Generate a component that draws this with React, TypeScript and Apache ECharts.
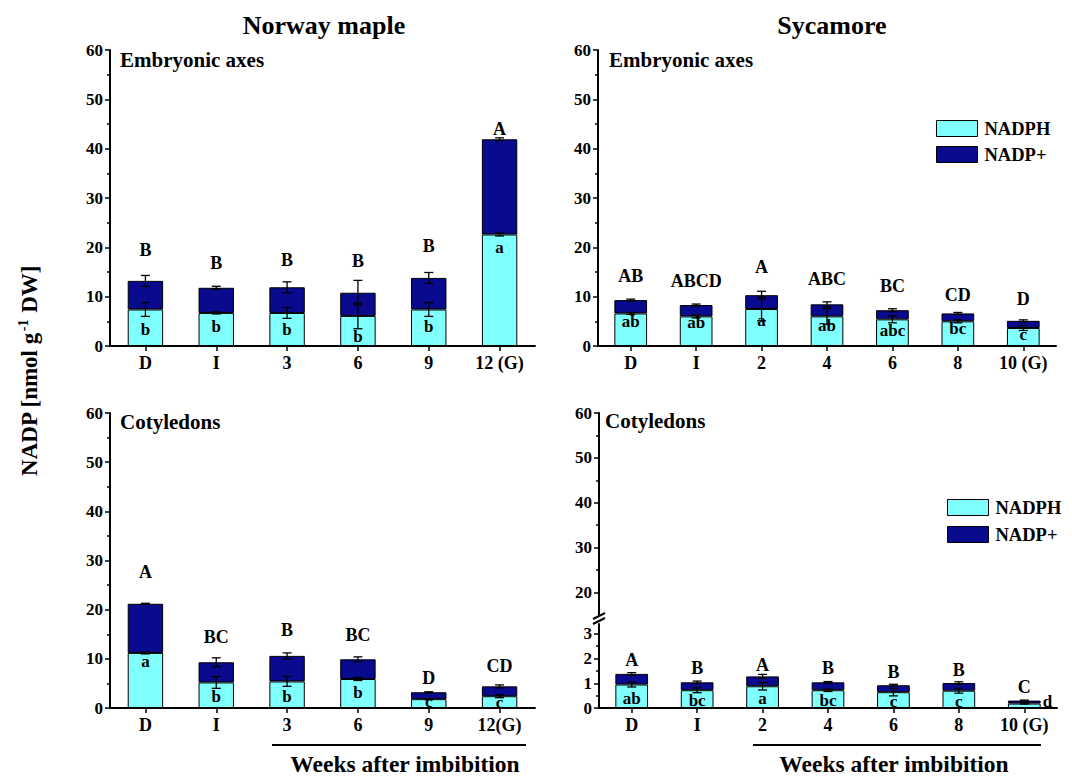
import React, { useEffect, useRef } from 'react';
import * as echarts from 'echarts';

const FONT = '"Liberation Serif", "Times New Roman", serif';

// ---------- categories ----------
const norwayCatsEmb = ['D', 'I', '3', '6', '9', '12 (G)'];
const norwayCatsCot = ['D', 'I', '3', '6', '9', '12(G)'];
const sycamoreCats = ['D', 'I', '2', '4', '6', '8', '10 (G)'];

// ---------- Norway maple, embryonic axes ----------
const nmEmbNadph = [7.4, 6.7, 6.7, 6.1, 7.4, 22.6];
const nmEmbNadp = [5.8, 5.1, 5.2, 4.7, 6.4, 19.3];
const nmEmbNadphErr = [1.4, 0.2, 1.1, 2.6, 1.4, 0.3];
const nmEmbNadpErr = [1.1, 0.3, 1.1, 2.5, 1.1, 0.3];
const nmEmbUpper = ['B', 'B', 'B', 'B', 'B', 'A'];
const nmEmbUpperY = [19.4, 16.9, 17.4, 17.2, 20.2, 44.0];
const nmEmbLower = ['b', 'b', 'b', 'b', 'b', 'a'];
const nmEmbLowerY = [3.3, 3.9, 3.3, 2.0, 3.9, 20.0];

// ---------- Sycamore, embryonic axes ----------
const syEmbNadph = [6.6, 6.0, 7.5, 6.0, 5.4, 5.0, 3.65];
const syEmbNadp = [2.7, 2.3, 2.8, 2.45, 1.85, 1.6, 1.45];
const syEmbNadphErr = [0.2, 0.3, 2.4, 1.6, 0.7, 0.3, 0.5];
const syEmbNadpErr = [0.2, 0.2, 0.8, 0.5, 0.3, 0.2, 0.2];
const syEmbUpper = ['AB', 'ABCD', 'A', 'ABC', 'BC', 'CD', 'D'];
const syEmbUpperY = [14.2, 13.2, 16.0, 13.5, 12.2, 10.4, 9.6];
const syEmbLower = ['ab', 'ab', 'a', 'ab', 'abc', 'bc', 'c'];
const syEmbLowerY = [5.0, 4.7, 5.2, 4.2, 3.2, 3.5, 2.4];

// ---------- Norway maple, cotyledons ----------
const nmCotNadph = [11.2, 5.2, 5.4, 5.9, 1.8, 2.4];
const nmCotNadp = [10.0, 4.1, 5.2, 4.0, 1.4, 2.0];
const nmCotNadphErr = [0.2, 1.2, 1.0, 0.3, 0.1, 0.3];
const nmCotNadpErr = [0.1, 0.9, 0.6, 0.5, 0.1, 0.3];
const nmCotUpper = ['A', 'BC', 'B', 'BC', 'D', 'CD'];
const nmCotUpperY = [27.7, 14.4, 15.8, 14.8, 6.1, 8.5];
const nmCotLower = ['a', 'b', 'b', 'b', 'c', 'c'];
const nmCotLowerY = [9.5, 2.4, 2.4, 3.2, 1.4, 1.2];

// ---------- Sycamore, cotyledons ----------
const syCotNadph = [0.95, 0.72, 0.88, 0.72, 0.64, 0.7, 0.18];
const syCotNadp = [0.43, 0.32, 0.4, 0.32, 0.28, 0.31, 0.12];
const syCotNadphErr = [0.1, 0.1, 0.15, 0.05, 0.15, 0.1, 0.02];
const syCotNadpErr = [0.05, 0.05, 0.08, 0.03, 0.04, 0.05, 0.02];
const syCotUpper = ['A', 'B', 'A', 'B', 'B', 'B', 'C'];
const syCotUpperY = [1.96, 1.62, 1.73, 1.62, 1.45, 1.55, 0.85];
const syCotLower = ['ab', 'bc', 'a', 'bc', 'c', 'c', 'd'];
const syCotLowerY = [0.4, 0.3, 0.38, 0.3, 0.27, 0.27, 0.27];

// ---------- axis ticks ----------
const mainTicks = [0, 10, 20, 30, 40, 50, 60];
const brokenUpperTicks = [20, 30, 40, 50, 60];
const brokenUpperMinor = [25, 35, 45, 55];
const brokenLowerTicks = [0, 1, 2, 3];
const brokenLowerMinor = [0.5, 1.5, 2.5];

const CYAN = '#80FFFF';
const NAVY = '#0A0A8E';

type Panel = {
  grid: number;
  nadph: number[];
  nadp: number[];
  nadphErr: number[];
  nadpErr: number[];
  upper: string[];
  upperY: number[];
  lower: string[];
  lowerY: number[];
};

const panels: Panel[] = [
  { grid: 0, nadph: nmEmbNadph, nadp: nmEmbNadp, nadphErr: nmEmbNadphErr, nadpErr: nmEmbNadpErr, upper: nmEmbUpper, upperY: nmEmbUpperY, lower: nmEmbLower, lowerY: nmEmbLowerY },
  { grid: 1, nadph: syEmbNadph, nadp: syEmbNadp, nadphErr: syEmbNadphErr, nadpErr: syEmbNadpErr, upper: syEmbUpper, upperY: syEmbUpperY, lower: syEmbLower, lowerY: syEmbLowerY },
  { grid: 2, nadph: nmCotNadph, nadp: nmCotNadp, nadphErr: nmCotNadphErr, nadpErr: nmCotNadpErr, upper: nmCotUpper, upperY: nmCotUpperY, lower: nmCotLower, lowerY: nmCotLowerY },
  { grid: 3, nadph: syCotNadph, nadp: syCotNadp, nadphErr: syCotNadphErr, nadpErr: syCotNadpErr, upper: syCotUpper, upperY: syCotUpperY, lower: syCotLower, lowerY: syCotLowerY },
];

function errorSeries(grid: number, data: number[][]) {
  return {
    type: 'custom',
    xAxisIndex: grid,
    yAxisIndex: grid,
    z: 5,
    silent: true,
    data,
    encode: { x: 0, y: 1 },
    renderItem: (params: any, api: any) => {
      const x = api.value(0);
      const v = api.value(1);
      const e = api.value(2);
      const hi = api.coord([x, v + e]);
      const lo = api.coord([x, v - e]);
      const hw = 4.5;
      const st = { stroke: '#000', lineWidth: 1.3 };
      return {
        type: 'group',
        children: [
          { type: 'line', shape: { x1: hi[0], y1: hi[1], x2: lo[0], y2: lo[1] }, style: st },
          { type: 'line', shape: { x1: hi[0] - hw, y1: hi[1], x2: hi[0] + hw, y2: hi[1] }, style: st },
          { type: 'line', shape: { x1: lo[0] - hw, y1: lo[1], x2: lo[0] + hw, y2: lo[1] }, style: st },
        ],
      };
    },
  };
}

function letterSeries(grid: number, texts: string[], ys: number[], size: number, nadph?: number[]) {
  return {
    type: 'custom',
    xAxisIndex: grid,
    yAxisIndex: grid,
    z: 6,
    silent: true,
    data: ys.map((y, i) => [i, y]),
    encode: { x: 0, y: 1 },
    renderItem: (params: any, api: any) => {
      const i = params.dataIndex;
      const p = api.coord([api.value(0), api.value(1)]);
      let x = p[0];
      let align = 'center';
      if (nadph) {
        const base = api.coord([i, 0]);
        const top = api.coord([i, nadph[i]]);
        if (base[1] - top[1] < 6) {
          const bw = api.size([1, 0])[0] * 0.5;
          x = p[0] + bw / 2 + 2;
          align = 'left';
        }
      }
      return {
        type: 'text',
        x,
        y: p[1],
        style: {
          text: texts[i],
          fill: '#000',
          font: `bold ${size}px ${FONT}`,
          align,
          verticalAlign: 'middle',
        },
      };
    },
  };
}

function buildOption() {
  const grids = [
    { left: 110, top: 50, width: 425, height: 296 },
    { left: 598, top: 50, width: 458, height: 296 },
    { left: 110, top: 413, width: 425, height: 295 },
    { left: 599, top: 624, width: 458, height: 84 },
    { left: 599, top: 413, width: 458, height: 202 },
  ];

  const catAxis = (gridIndex: number, data: string[], show = true) => ({
    type: 'category',
    gridIndex,
    data,
    show,
    boundaryGap: true,
    axisLine: { show: true, onZero: false, lineStyle: { color: '#000', width: 2 } },
    axisTick: { show: true, alignWithLabel: true, length: 5, lineStyle: { color: '#000', width: 1.5 } },
    axisLabel: { color: '#000', fontFamily: FONT, fontWeight: 'bold', fontSize: 18, margin: 8 },
    splitLine: { show: false },
  });

  const labelStyle = { color: '#000', fontFamily: FONT, fontWeight: 'bold', fontSize: 17, margin: 7 };

  const mainY = (gridIndex: number) => ({
    type: 'value',
    gridIndex,
    min: 0,
    max: 60,
    interval: 10,
    axisLine: { show: true, lineStyle: { color: '#000', width: 2 } },
    axisTick: { show: true, length: 5, lineStyle: { color: '#000', width: 1.5 }, customValues: mainTicks },
    minorTick: { show: true, splitNumber: 2, length: 3, lineStyle: { color: '#000', width: 1.5 } },
    axisLabel: { ...labelStyle, customValues: mainTicks },
    splitLine: { show: false },
    minorSplitLine: { show: false },
  });

  const xAxis = [
    catAxis(0, norwayCatsEmb),
    catAxis(1, sycamoreCats),
    catAxis(2, norwayCatsCot),
    catAxis(3, sycamoreCats),
    catAxis(4, sycamoreCats, false),
  ];

  const yAxis: any[] = [
    mainY(0),
    mainY(1),
    mainY(2),
    {
      type: 'value',
      gridIndex: 3,
      position: 'left',
      min: 0,
      max: 3.4,
      axisLine: { show: true, lineStyle: { color: '#000', width: 2 } },
      axisTick: { show: true, length: 5, lineStyle: { color: '#000', width: 1.5 }, customValues: brokenLowerTicks },
      axisLabel: { ...labelStyle, customValues: brokenLowerTicks },
      splitLine: { show: false },
    },
    {
      type: 'value',
      gridIndex: 4,
      position: 'left',
      min: 15,
      max: 60,
      axisLine: { show: true, lineStyle: { color: '#000', width: 2 } },
      axisTick: { show: true, length: 5, lineStyle: { color: '#000', width: 1.5 }, customValues: brokenUpperTicks },
      axisLabel: { ...labelStyle, customValues: brokenUpperTicks },
      splitLine: { show: false },
    },
    {
      type: 'value',
      gridIndex: 3,
      position: 'left',
      min: 0,
      max: 3.4,
      axisLine: { show: false },
      axisTick: { show: true, length: 3, lineStyle: { color: '#000', width: 1.5 }, customValues: brokenLowerMinor },
      axisLabel: { show: false },
      splitLine: { show: false },
    },
    {
      type: 'value',
      gridIndex: 4,
      position: 'left',
      min: 15,
      max: 60,
      axisLine: { show: false },
      axisTick: { show: true, length: 3, lineStyle: { color: '#000', width: 1.5 }, customValues: brokenUpperMinor },
      axisLabel: { show: false },
      splitLine: { show: false },
    },
  ];

  const series: any[] = [];
  panels.forEach((p, k) => {
    const g = p.grid;
    series.push({
      type: 'bar',
      name: 'NADPH',
      stack: 'st' + k,
      xAxisIndex: g,
      yAxisIndex: g,
      barWidth: '50%',
      data: p.nadph,
      itemStyle: { color: CYAN, borderColor: '#000', borderWidth: 1 },
      z: 2,
    });
    series.push({
      type: 'bar',
      name: 'NADP+',
      stack: 'st' + k,
      xAxisIndex: g,
      yAxisIndex: g,
      barWidth: '50%',
      data: p.nadp,
      itemStyle: { color: NAVY, borderColor: '#000', borderWidth: 1 },
      z: 2,
    });
    series.push(errorSeries(g, p.nadph.map((v, i) => [i, v, p.nadphErr[i]])));
    series.push(errorSeries(g, p.nadph.map((v, i) => [i, v + p.nadp[i], p.nadpErr[i]])));
    series.push(letterSeries(g, p.upper, p.upperY, 18));
    series.push(letterSeries(g, p.lower, p.lowerY, 17, p.nadph));
  });

  const legendCommon = {
    orient: 'vertical',
    itemWidth: 41,
    itemHeight: 16,
    icon: 'rect',
    selectedMode: false,
    data: ['NADPH', 'NADP+'],
    textStyle: { color: '#000', fontFamily: FONT, fontWeight: 'bold', fontSize: 18.5, padding: [0, 0, 0, 2] },
    itemStyle: { borderColor: '#000', borderWidth: 1 },
    padding: 0,
  };

  const txt = (x: number, y: number, text: string, size: number, align = 'center') => ({
    type: 'text',
    x,
    y,
    silent: true,
    style: {
      text,
      fill: '#000',
      font: `bold ${size}px ${FONT}`,
      align,
      textAlign: align,
      verticalAlign: 'middle',
      textVerticalAlign: 'middle',
    },
  });

  const graphic: any[] = [
    txt(324, 25, 'Norway maple', 26),
    txt(832, 25, 'Sycamore', 26),
    txt(120, 60, 'Embryonic axes', 21, 'left'),
    txt(609, 60, 'Embryonic axes', 21, 'left'),
    txt(120, 422, 'Cotyledons', 21, 'left'),
    txt(605, 421, 'Cotyledons', 21, 'left'),
    txt(405, 764, 'Weeks after imbibition', 23.5),
    txt(894, 764, 'Weeks after imbibition', 23.5),
    { type: 'line', silent: true, shape: { x1: 272, y1: 745, x2: 526, y2: 745 }, style: { stroke: '#000', lineWidth: 2 } },
    { type: 'line', silent: true, shape: { x1: 753, y1: 745, x2: 1041, y2: 745 }, style: { stroke: '#000', lineWidth: 2 } },
    // axis break marks
    { type: 'line', silent: true, shape: { x1: 593, y1: 619, x2: 605, y2: 613 }, style: { stroke: '#000', lineWidth: 2 } },
    { type: 'line', silent: true, shape: { x1: 593, y1: 624, x2: 605, y2: 618 }, style: { stroke: '#000', lineWidth: 2 } },
    {
      type: 'text',
      x: 29,
      y: 371,
      rotation: Math.PI / 2,
      silent: true,
      style: {
        text: '{a|NADP [nmol g}{s|-1}{a| DW]}',
        fill: '#000',
        align: 'center',
        textAlign: 'center',
        verticalAlign: 'middle',
        textVerticalAlign: 'middle',
        rich: {
          a: { font: `bold 23px ${FONT}`, fill: '#000', lineHeight: 26 },
          s: { font: `bold 14px ${FONT}`, fill: '#000', verticalAlign: 'top', lineHeight: 26, padding: [0, 1, 0, 1] },
        },
      },
    },
  ];

  return {
    animation: false,
    backgroundColor: '#fff',
    textStyle: { fontFamily: FONT },
    grid: grids,
    xAxis,
    yAxis,
    legend: [
      { ...legendCommon, left: 936, top: 119, itemGap: 7 },
      { ...legendCommon, left: 947, top: 498, itemGap: 8 },
    ],
    series,
    graphic,
  };
}

export default function App() {
  const ref = useRef<HTMLDivElement>(null);
  useEffect(() => {
    document.body.style.margin = '0';
    if (!ref.current) return;
    const chart = echarts.init(ref.current, undefined, { renderer: 'svg' });
    chart.setOption(buildOption() as any);
    return () => chart.dispose();
  }, []);
  return <div ref={ref} style={{ width: 1072, height: 778 }} />;
}
